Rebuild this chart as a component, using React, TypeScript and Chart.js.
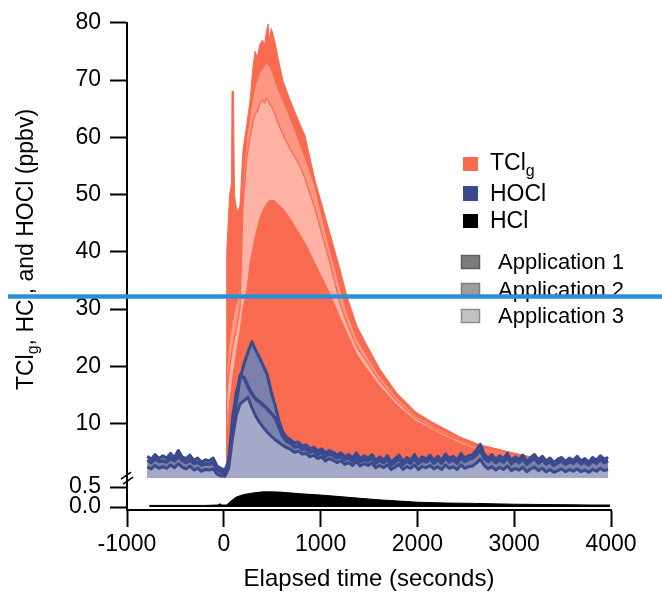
import { useEffect, useRef } from 'react';
import { Chart, registerables } from 'chart.js';
Chart.register(...registerables);

const FONT = '"Liberation Sans", Arial, Helvetica, sans-serif';

// ---------- axis ticks ----------
const X_TICKS = [-1000, 0, 1000, 2000, 3000, 4000];
const Y_TICKS_TOP = [10, 20, 30, 40, 50, 60, 70, 80];
const Y_TICKS_BOTTOM = [0.0, 0.5];

// ---------- TClg (ppbv), three applications + core ----------
const TCL_T = [25, 30, 60, 80, 85, 100, 110, 136, 167, 198,
  235, 271, 300, 322, 345, 374, 400, 420, 440, 457,
  470, 490, 508, 530, 560, 611, 684, 787, 839, 942,
  1097, 1200, 1273, 1376, 1500, 1613, 1789, 1985, 2150, 2306,
  2450, 2647, 2988, 3200, 3401, 3597, 3700];
const TCL_OUTER = [2, 40, 50, 52, 68, 68, 50, 47, 48, 57.7,
  62, 66.4, 72, 75, 74, 76.3, 77, 76, 78.5, 79.8,
  77, 79, 78, 76.5, 73.9, 69.9, 66.5, 62.3, 60.3, 52.5,
  43.2, 37, 32.2, 27, 23, 19.5, 15.3, 12, 10.3, 8.9,
  7.6, 6.3, 4.9, 4.1, 3.4, 3.1, 3.0];
const TCL_MID = [1.5, 20, 25, 27, 28, 29, 30, 31.5, 34, 52,
  60, 64, 67, 69, 70, 71.5, 72, 72.5, 73, 72.8,
  72.5, 72, 71.2, 70, 68.5, 66.5, 63.5, 59, 56.5, 51.5,
  40.5, 34, 29.5, 24.8, 21.3, 18.3, 14.6, 11.4, 9.8, 8.4,
  7.2, 5.9, 4.6, 3.9, 3.2, 2.9, 2.8];
const TCL_LIGHT = [1, 15, 20, 22, 23, 24, 25, 27, 30, 48,
  56, 60, 62.5, 64, 64.5, 66, 66.5, 66, 66.8, 66.5,
  65.8, 65.5, 64.8, 64, 62.5, 60.5, 58, 55, 52.8, 47.5,
  38, 31, 27.5, 23.3, 20.2, 17.4, 13.9, 10.9, 9.4, 8.0,
  6.9, 5.6, 4.3, 3.6, 3.0, 2.7, 2.6];
const TCL_INNER = [0.8, 6, 14, 16, 17, 19, 20, 23, 26, 30,
  33, 38, 40.5, 42.5, 44, 46, 47, 47.8, 48.3, 48.7,
  48.9, 49, 49, 48.8, 48.3, 47.5, 45.8, 43, 41.5, 38,
  32.6, 28.5, 25.8, 22, 19, 16.5, 13.2, 10.4, 9.0, 7.6,
  6.5, 5.3, 4.1, 3.4, 2.8, 2.5, 2.4];

// ---------- HOCl (ppbv), three applications ----------
const HOCL_T = [-790, -750, -710, -670, -630, -590, -550, -510, -470, -430,
  -390, -350, -310, -270, -230, -190, -150, -110, -70, -30,
  10, 50, 90, 130, 170, 210, 250, 290, 330, 370,
  410, 450, 490, 530, 570, 610, 650, 690, 730, 770,
  810, 850, 890, 930, 970, 1010, 1050, 1090, 1130, 1170,
  1210, 1250, 1290, 1330, 1370, 1410, 1450, 1490, 1530, 1570,
  1610, 1650, 1690, 1730, 1770, 1810, 1850, 1890, 1930, 1970,
  2010, 2050, 2090, 2130, 2170, 2210, 2250, 2290, 2330, 2370,
  2410, 2450, 2490, 2530, 2570, 2610, 2650, 2690, 2730, 2770,
  2810, 2850, 2890, 2930, 2970, 3010, 3050, 3090, 3130, 3170,
  3210, 3250, 3290, 3330, 3370, 3410, 3450, 3490, 3530, 3570,
  3610, 3650, 3690, 3730, 3770, 3810, 3850, 3890, 3930, 3970];
const HOCL_A = [4.3, 3.8, 4.6, 3.9, 4.4, 4.0, 4.8, 4.1, 5.3, 4.2,
  3.9, 4.5, 3.6, 4.0, 3.3, 3.7, 3.5, 4.0, 2.6, 2.2,
  1.8, 3.5, 11.0, 15.5, 18.0, 20.5, 22.5, 24.3, 22.8, 21.5,
  20.0, 18.5, 15.5, 13.2, 10.5, 8.5, 7.6, 7.2, 6.6, 6.8,
  6.1, 6.3, 5.6, 5.9, 5.2, 5.6, 4.9, 5.3, 5.0, 4.5,
  4.9, 4.2, 4.6, 4.0, 4.9, 3.9, 4.4, 4.0, 4.6, 3.6,
  4.2, 3.7, 4.4, 3.3, 3.9, 4.5, 3.4, 4.1, 3.6, 4.6,
  3.5, 4.2, 3.8, 4.5, 3.6, 4.3, 3.6, 4.7, 3.9, 4.3,
  3.6, 4.8, 4.0, 4.4, 4.6, 5.4, 6.4, 4.7, 4.0, 4.6,
  3.7, 4.4, 3.9, 4.8, 3.6, 4.2, 3.8, 4.5, 3.4, 4.1,
  4.6, 3.7, 4.3, 3.5, 4.0, 3.2, 3.8, 4.1, 3.4, 4.0,
  3.6, 4.3, 3.5, 3.9, 3.3, 4.1, 3.6, 4.4, 3.8, 4.1];
const HOCL_B = [3.6, 3.2, 3.9, 3.4, 3.5, 3.3, 4.0, 3.5, 4.4, 3.6,
  3.2, 3.7, 3.1, 3.2, 2.8, 3.0, 2.9, 3.2, 2.0, 1.6,
  1.2, 3.0, 9.5, 14.0, 18.5, 18.0, 16.5, 15.2, 14.3, 13.8,
  13.2, 12.6, 11.8, 11.0, 9.4, 7.8, 6.9, 6.6, 5.9, 6.1,
  5.5, 5.6, 5.0, 5.3, 4.6, 5.0, 4.3, 4.7, 4.4, 4.0,
  4.3, 3.7, 4.0, 3.5, 4.3, 3.4, 3.8, 3.5, 4.0, 3.1,
  3.6, 3.2, 3.8, 2.8, 3.3, 3.9, 2.9, 3.5, 3.1, 4.0,
  3.0, 3.6, 3.3, 3.9, 3.1, 3.7, 3.1, 4.1, 3.3, 3.7,
  3.1, 4.1, 3.4, 3.8, 4.0, 4.6, 5.4, 4.0, 3.4, 3.9,
  3.2, 3.7, 3.3, 4.1, 3.0, 3.6, 3.2, 3.9, 2.9, 3.5,
  3.9, 3.1, 3.7, 3.0, 3.4, 2.7, 3.2, 3.5, 2.9, 3.4,
  3.1, 3.7, 3.0, 3.3, 2.8, 3.5, 3.1, 3.8, 3.2, 3.5];
const HOCL_C = [2.4, 2.1, 2.7, 2.2, 2.5, 2.2, 2.8, 2.3, 3.0, 2.4,
  2.1, 2.6, 1.9, 2.2, 1.7, 2.0, 1.9, 2.1, 1.2, 0.9,
  0.8, 2.2, 7.5, 11.5, 13.5, 14.0, 14.6, 12.8, 11.3, 10.2,
  9.3, 8.5, 7.8, 7.2, 6.7, 6.2, 5.8, 5.5, 5.0, 5.2,
  4.7, 4.8, 4.2, 4.5, 3.9, 4.2, 3.5, 3.9, 3.6, 3.2,
  3.5, 2.9, 3.2, 2.7, 3.4, 2.6, 3.0, 2.7, 3.1, 2.3,
  2.7, 2.3, 2.8, 2.0, 2.4, 2.9, 2.0, 2.5, 2.2, 2.8,
  2.0, 2.5, 2.3, 2.7, 2.1, 2.5, 2.0, 2.8, 2.2, 2.5,
  2.0, 2.8, 2.2, 2.5, 2.6, 3.1, 3.8, 2.7, 2.1, 2.5,
  1.9, 2.4, 2.0, 2.6, 1.8, 2.2, 1.9, 2.4, 1.6, 2.1,
  2.4, 1.8, 2.2, 1.6, 2.0, 1.5, 1.8, 2.1, 1.6, 2.0,
  1.7, 2.1, 1.6, 1.9, 1.5, 2.0, 1.7, 2.2, 1.8, 2.0];

// ---------- HCl (ppbv), lower panel ----------
const HCL_T = [-770, -500, -200, -60, -40, -20, 30, 50, 90, 130,
  200, 300, 400, 500, 600, 700, 800, 1000, 1200, 1400,
  1600, 1800, 2000, 2300, 2600, 3000, 3400, 3800, 3990];
const HCL_V = [0.04, 0.04, 0.04, 0.05, 0.08, 0.05, 0.05, 0.1, 0.18, 0.25,
  0.31, 0.35, 0.38, 0.38, 0.37, 0.35, 0.33, 0.3, 0.26, 0.22,
  0.18, 0.15, 0.12, 0.1, 0.09, 0.07, 0.06, 0.05, 0.05];

// ---------- texts ----------
const X_TITLE = 'Elapsed time (seconds)';
const Y_TITLE = ['TCl', 'g', ', HCl, and HOCl (ppbv)'];
const SPECIES_LABELS = ['TCl', 'HOCl', 'HCl'];
const APP_LABELS = ['Application 1', 'Application 2', 'Application 3'];
const MARKER_LINE_VALUE = 32.2;

const C_CORAL = '#f96b50';
const C_MID = '#fb9783';
const C_LIGHT = '#fdb2a3';
const C_SLATE = '#7b81ab';
const C_LAV = '#a5a9c9';
const C_NAVY = '#3b4a8d';

const toXY = (t: number[], v: number[]) => t.map((x, i) => ({ x, y: v[i] }));

const overlay = {
  id: 'overlay',
  afterDraw(chart: any) {
    const ctx = chart.ctx as CanvasRenderingContext2D;
    const yt = chart.scales.yt;
    ctx.save();
    // axis break
    const ax = yt.right;
    const by = yt.bottom;
    ctx.strokeStyle = '#000';
    ctx.lineWidth = 1.6;
    [[-6, 6, 4, -1], [-4, 11, 6, 4]].forEach(([x1, y1, x2, y2]) => {
      ctx.beginPath();
      ctx.moveTo(ax + x1, by + y1 - 5);
      ctx.lineTo(ax + x2, by + y2 - 5);
      ctx.stroke();
    });
    // y title with subscript
    ctx.fillStyle = '#000';
    ctx.textBaseline = 'alphabetic';
    ctx.save();
    ctx.translate(33, 249.5);
    ctx.rotate(-Math.PI / 2);
    const big = `23px ${FONT}`;
    const small = `16px ${FONT}`;
    ctx.font = big;
    const w1 = ctx.measureText(Y_TITLE[0]).width;
    const w3 = ctx.measureText(Y_TITLE[2]).width;
    ctx.font = small;
    const w2 = ctx.measureText(Y_TITLE[1]).width;
    let x = -(w1 + w2 + w3) / 2;
    ctx.font = big;
    ctx.textAlign = 'left';
    ctx.fillText(Y_TITLE[0], x, 0);
    x += w1;
    ctx.font = small;
    ctx.fillText(Y_TITLE[1], x, 5);
    x += w2;
    ctx.font = big;
    ctx.fillText(Y_TITLE[2], x, 0);
    ctx.restore();
    // legend
    const sp = [
      { c: C_CORAL, box: [463, 157, 15, 14], ty: 170 },
      { c: C_NAVY, box: [463, 186, 15, 15], ty: 201 },
      { c: '#000', box: [463, 214, 15, 14], ty: 228 },
    ];
    ctx.textAlign = 'left';
    sp.forEach((s, i) => {
      ctx.fillStyle = s.c;
      ctx.fillRect(s.box[0], s.box[1], s.box[2], s.box[3]);
      ctx.fillStyle = '#000';
      ctx.font = `23px ${FONT}`;
      ctx.fillText(SPECIES_LABELS[i], 490, s.ty);
      if (i === 0) {
        const w = ctx.measureText(SPECIES_LABELS[0]).width;
        ctx.font = `16px ${FONT}`;
        ctx.fillText('g', 490 + w, s.ty + 6);
      }
    });
    const ap = [
      { f: '#7b7b7b', s: '#5f5f5f', y: 255, ty: 269 },
      { f: '#9d9d9d', s: '#7f7f7f', y: 283, ty: 297 },
      { f: '#c2c2c2', s: '#8c8c8c', y: 309, ty: 323 },
    ];
    ap.forEach((a, i) => {
      ctx.fillStyle = a.f;
      ctx.fillRect(461, a.y, 19, 14);
      ctx.strokeStyle = a.s;
      ctx.lineWidth = 1.5;
      ctx.strokeRect(461.5, a.y + 0.5, 18, 13);
      ctx.fillStyle = '#000';
      ctx.font = `22px ${FONT}`;
      ctx.fillText(APP_LABELS[i], 498, a.ty);
    });
    // horizontal marker line
    const my = yt.getPixelForValue(MARKER_LINE_VALUE);
    ctx.strokeStyle = '#2b8fd6';
    ctx.lineWidth = 4.5;
    ctx.beginPath();
    ctx.moveTo(8, my);
    ctx.lineTo(662, my);
    ctx.stroke();
    ctx.restore();
  },
};

export default function App() {
  const ref = useRef<HTMLCanvasElement>(null);
  useEffect(() => {
    const canvas = ref.current!;
    Chart.defaults.font.family = FONT;
    Chart.defaults.color = '#000';
    const area = (data: any, yAxisID: string, bg: string, border: string, bw: number, fill: any) => ({
      data, yAxisID, backgroundColor: bg, borderColor: border, borderWidth: bw, fill,
      pointRadius: 0, tension: 0, borderJoinStyle: 'round',
    });
    const axisGrid = { drawOnChartArea: false, drawTicks: true, tickLength: 17, tickWidth: 2, tickColor: '#000' };
    const axisBorder = { display: true, color: '#000', width: 2 };
    const chart = new Chart(canvas, {
      type: 'line',
      data: {
        datasets: [
          area(toXY(HCL_T, HCL_V), 'yb', '#000', '#000', 1, 'origin'),
          area(toXY(HOCL_T, HOCL_C), 'yt', C_LAV, C_NAVY, 3, 'start'),
          area(toXY(HOCL_T, HOCL_B), 'yt', C_SLATE, C_NAVY, 3.5, 'start'),
          area(toXY(HOCL_T, HOCL_A), 'yt', C_SLATE, C_NAVY, 3, 'start'),
          area(toXY(TCL_T, TCL_INNER), 'yt', C_CORAL, C_CORAL, 1, 'start'),
          area(toXY(TCL_T, TCL_LIGHT), 'yt', C_LIGHT, C_CORAL, 1.3, 'start'),
          area(toXY(TCL_T, TCL_MID), 'yt', C_MID, C_CORAL, 1.3, 'start'),
          area(toXY(TCL_T, TCL_OUTER), 'yt', C_CORAL, C_CORAL, 1, 'start'),
        ] as any,
      },
      options: {
        responsive: false,
        animation: false,
        devicePixelRatio: 1,
        layout: { padding: { left: 0, right: 51, top: 22, bottom: 0 } },
        plugins: { legend: { display: false }, tooltip: { enabled: false } },
        scales: {
          x: {
            type: 'linear', position: 'bottom', min: -1000, max: 4000,
            afterBuildTicks: (s: any) => { s.ticks = X_TICKS.map((v) => ({ value: v })); },
            afterFit: (s: any) => { s.height = 86; },
            ticks: { font: { size: 23 }, color: '#000', padding: 4, maxRotation: 0, autoSkip: false,
              callback: (v: any) => String(v) },
            grid: axisGrid,
            border: axisBorder,
            title: { display: true, text: X_TITLE, font: { size: 24 }, color: '#000', padding: { top: 0, bottom: 2 } },
          },
          yb: {
            type: 'linear', position: 'left', stack: 'y', stackWeight: 32, min: -0.075, max: 0.725,
            afterBuildTicks: (s: any) => { s.ticks = Y_TICKS_BOTTOM.map((v) => ({ value: v })); },
            afterFit: (s: any) => { s.width = 127; },
            ticks: { font: { size: 23, lineHeight: 1 }, color: '#000', padding: 9, autoSkip: false,
              callback: (v: any) => Number(v).toFixed(1) },
            grid: axisGrid,
            border: axisBorder,
          },
          yt: {
            type: 'linear', position: 'left', stack: 'y', stackWeight: 456, min: 0.5, max: 80,
            afterBuildTicks: (s: any) => { s.ticks = Y_TICKS_TOP.map((v) => ({ value: v })); },
            afterFit: (s: any) => { s.width = 127; },
            ticks: { font: { size: 23 }, color: '#000', padding: 9, autoSkip: false, callback: (v: any) => String(v) },
            grid: axisGrid,
            border: axisBorder,
          },
        },
      } as any,
      plugins: [overlay],
    });
    return () => chart.destroy();
  }, []);
  return (
    <div style={{ position: 'fixed', left: 0, top: 0, width: 662, height: 596, background: '#fff' }}>
      <canvas ref={ref} width={662} height={596} style={{ display: 'block', width: 662, height: 596 }} />
    </div>
  );
}
